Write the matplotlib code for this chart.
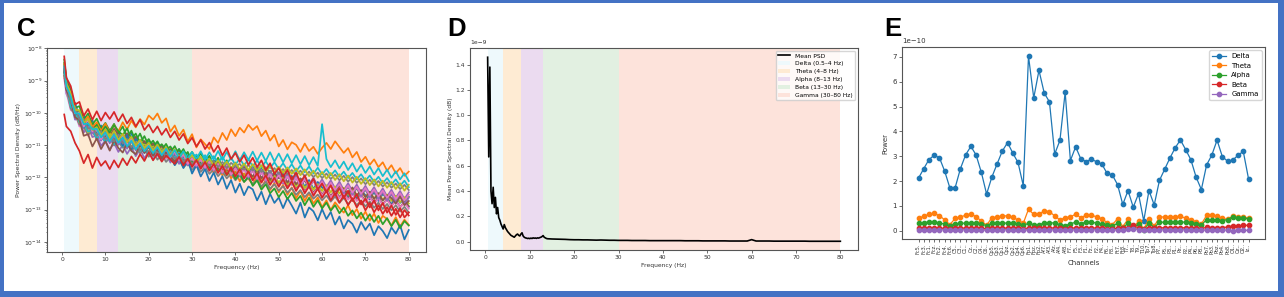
import numpy as np
import matplotlib
matplotlib.use('Agg')
import matplotlib.pyplot as plt
from matplotlib.patches import Rectangle

# ---------------- Panel C data: PSD per channel (values are -log10(PSD)) ----------------
psd_freqs = [0.5] + list(range(1, 81))

blue_a = [8.65,
 9.28, 9.51, 10.05, 9.97, 10.46, 10.22, 10.63, 10.41, 10.84, 10.55,
 10.91, 10.62, 10.74, 11.02, 10.69, 11.13, 10.81, 10.93, 11.24, 10.97,
 11.33, 11.05, 11.41, 11.17, 11.29, 11.62, 11.38, 11.71, 11.46, 11.88,
 11.62, 11.97, 11.74, 12.11, 11.85, 12.22, 11.96, 12.35, 12.08, 12.47,
 12.19, 12.55, 12.28, 12.37, 12.71, 12.44, 12.83, 12.51, 12.79, 12.62,
 12.95, 12.64, 12.87, 13.12, 12.78, 13.24, 12.93, 13.05, 13.33, 12.98,
 13.29, 13.07, 13.46, 13.21, 13.58, 13.32, 13.44, 13.71, 13.38, 13.62,
 13.43, 13.79, 13.51, 13.66, 13.88, 13.55, 13.74, 13.48, 13.92, 13.63]
blue_b = [8.45,
 8.92, 9.63, 9.69, 10.14, 10.05, 10.41, 10.22, 10.68, 10.39, 10.77,
 10.51, 10.84, 10.58, 10.93, 10.71, 10.62, 11.05, 10.83, 11.14, 10.89,
 11.21, 10.95, 11.28, 11.06, 11.35, 11.43, 11.12, 11.48, 11.25, 11.56,
 11.31, 11.62, 11.39, 11.71, 11.48, 11.53, 11.82, 11.57, 11.86, 11.62,
 11.93, 11.64, 11.87, 11.99, 11.71, 12.05, 11.79, 12.11, 11.84, 12.02,
 11.88, 12.17, 11.95, 12.24, 12.03, 12.29, 12.08, 12.36, 12.14, 12.31,
 12.42, 12.16, 12.47, 12.25, 12.38, 12.59, 12.33, 12.64, 12.41, 12.55,
 12.68, 12.44, 12.73, 12.51, 12.62, 12.84, 12.57, 12.79, 12.66, 12.91]
orange_a = [8.58,
 9.14, 9.42, 9.86, 9.95, 10.27, 10.11, 10.44, 10.29, 10.56, 10.33,
 10.62, 10.38, 10.57, 10.29, 10.51, 10.24, 10.45, 10.19, 10.36, 10.08,
 10.21, 10.02, 10.31, 10.17, 10.58, 10.39, 10.71, 10.52, 10.89, 10.66,
 11.07, 10.82, 10.97, 11.12, 10.76, 10.93, 10.62, 10.84, 10.51, 10.72,
 10.46, 10.61, 10.37, 10.53, 10.41, 10.72, 10.55, 10.86, 10.68, 11.04,
 10.84, 11.13, 10.91, 10.99, 11.21, 10.95, 11.18, 11.05, 11.27, 11.08,
 10.93, 11.12, 10.88, 11.06, 11.24, 11.09, 11.38, 11.21, 11.52, 11.36,
 11.61, 11.44, 11.68, 11.53, 11.79, 11.62, 11.87, 11.71, 11.95, 11.82]
orange_b = [8.86,
 9.21, 9.84, 9.88, 10.33, 10.26, 10.62, 10.39, 10.75, 10.51, 10.83,
 10.61, 10.92, 10.71, 10.79, 11.03, 10.85, 11.14, 10.91, 11.22, 11.01,
 11.31, 11.06, 11.24, 11.39, 11.12, 11.48, 11.26, 11.57, 11.33, 11.64,
 11.42, 11.71, 11.49, 11.63, 11.86, 11.58, 11.94, 11.72, 12.03, 11.81,
 12.12, 11.87, 12.04, 12.21, 11.96, 12.32, 12.08, 12.39, 12.17, 12.46,
 12.23, 12.54, 12.31, 12.65, 12.41, 12.73, 12.49, 12.81, 12.62, 12.92,
 12.71, 13.01, 12.77, 12.95, 13.09, 12.86, 13.17, 12.98, 13.28, 13.06,
 13.34, 13.12, 13.41, 13.19, 13.29, 13.49, 13.23, 13.52, 13.31, 13.47]
green_a = [8.54,
 9.23, 9.47, 10.02, 9.96, 10.41, 10.24, 10.58, 10.37, 10.63, 10.42,
 10.61, 10.38, 10.57, 10.69, 10.48, 10.81, 10.64, 10.93, 10.72, 11.02,
 10.86, 11.09, 10.97, 11.15, 11.04, 11.26, 11.12, 11.37, 11.21, 11.52,
 11.36, 11.58, 11.42, 11.71, 11.53, 11.82, 11.64, 11.93, 11.76, 12.05,
 11.88, 12.14, 11.97, 12.26, 12.09, 12.38, 12.21, 12.49, 12.34, 12.61,
 12.42, 12.67, 12.48, 12.73, 12.57, 12.86, 12.63, 12.91, 12.71, 12.96,
 12.78, 13.03, 12.86, 13.11, 12.93, 13.19, 13.02, 13.27, 13.09, 13.34,
 13.14, 13.38, 13.19, 13.45, 13.26, 13.51, 13.31, 13.57, 13.35, 13.49]
green_b = [8.35,
 8.99, 9.27, 9.85, 9.79, 10.21, 10.02, 10.36, 10.18, 10.49, 10.31,
 10.56, 10.34, 10.63, 10.42, 10.78, 10.55, 10.87, 10.64, 10.97, 10.81,
 11.06, 10.88, 11.14, 10.96, 11.22, 11.03, 11.31, 11.12, 11.39, 11.21,
 11.46, 11.25, 11.52, 11.33, 11.61, 11.39, 11.68, 11.47, 11.74, 11.54,
 11.81, 11.59, 11.86, 11.65, 11.93, 11.72, 11.98, 11.79, 12.04, 11.85,
 12.09, 11.88, 12.13, 11.94, 12.19, 12.01, 12.24, 12.05, 12.29, 12.12,
 12.34, 12.14, 12.39, 12.21, 12.45, 12.28, 12.51, 12.33, 12.56, 12.37,
 12.61, 12.42, 12.66, 12.47, 12.71, 12.51, 12.75, 12.56, 12.79, 12.60]
red_a = [10.05,
 10.42, 10.57, 10.93, 11.18, 11.56, 11.29, 11.71, 11.38, 11.64, 11.49,
 11.74, 11.47, 11.69, 11.41, 11.62, 11.35, 11.55, 11.28, 11.49, 11.22,
 11.47, 11.26, 11.51, 11.32, 11.45, 11.58, 11.36, 11.63, 11.41, 11.67,
 11.46, 11.73, 11.52, 11.79, 11.58, 11.86, 11.64, 11.92, 11.69, 11.97,
 11.74, 12.03, 11.81, 12.09, 11.87, 12.16, 11.93, 12.23, 12.01, 12.29,
 12.05, 12.34, 12.12, 12.42, 12.19, 12.49, 12.27, 12.57, 12.35, 12.63,
 12.42, 12.71, 12.49, 12.78, 12.56, 12.86, 12.64, 12.93, 12.72, 13.02,
 12.79, 13.08, 12.86, 13.13, 12.92, 13.19, 12.97, 13.24, 13.01, 13.18]
red_b = [8.25,
 8.91, 9.17, 9.74, 9.66, 10.09, 9.88, 10.21, 9.95, 10.24, 9.99,
 10.19, 9.97, 10.26, 10.04, 10.33, 10.14, 10.42, 10.21, 10.53, 10.36,
 10.61, 10.42, 10.68, 10.49, 10.76, 10.57, 10.84, 10.65, 10.95, 10.77,
 11.04, 10.84, 11.12, 10.92, 11.21, 11.01, 11.32, 11.09, 11.43, 11.24,
 11.52, 11.31, 11.61, 11.39, 11.68, 11.47, 11.78, 11.56, 11.89, 11.71,
 11.98, 11.77, 12.07, 11.85, 12.16, 11.94, 12.26, 12.04, 12.37, 12.19,
 12.46, 12.25, 12.55, 12.33, 12.64, 12.41, 12.73, 12.52, 12.84, 12.66,
 12.93, 12.71, 13.02, 12.79, 13.09, 12.87, 13.16, 12.95, 13.24, 13.08]
purple_a = [8.60,
 9.15, 9.53, 9.97, 10.05, 10.39, 10.21, 10.64, 10.47, 10.86, 10.63,
 10.94, 10.71, 10.99, 10.82, 11.11, 10.87, 11.16, 10.95, 11.24, 11.02,
 11.29, 11.07, 11.36, 11.14, 11.44, 11.23, 11.52, 11.31, 11.61, 11.38,
 11.67, 11.43, 11.72, 11.51, 11.79, 11.56, 11.86, 11.62, 11.92, 11.69,
 11.95, 11.72, 12.01, 11.78, 12.06, 11.84, 12.11, 11.89, 12.15, 11.94,
 12.19, 11.97, 12.23, 12.01, 12.28, 12.06, 12.32, 12.10, 12.36, 12.14,
 12.40, 12.18, 12.44, 12.22, 12.49, 12.27, 12.53, 12.31, 12.58, 12.36,
 12.62, 12.41, 12.67, 12.46, 12.72, 12.51, 12.77, 12.56, 12.82, 12.63]
purple_b = [8.76,
 9.41, 9.69, 10.21, 10.17, 10.61, 10.42, 10.75, 10.69, 11.02, 10.86,
 11.14, 10.93, 11.21, 10.99, 11.27, 11.06, 11.34, 11.12, 11.41, 11.19,
 11.45, 11.21, 11.49, 11.26, 11.54, 11.31, 11.58, 11.37, 11.63, 11.42,
 11.67, 11.44, 11.71, 11.49, 11.75, 11.54, 11.79, 11.58, 11.84, 11.62,
 11.88, 11.65, 11.91, 11.70, 11.96, 11.75, 12.01, 11.79, 12.05, 11.84,
 12.09, 11.87, 12.13, 11.92, 12.18, 11.97, 12.22, 12.01, 12.27, 12.06,
 12.30, 12.09, 12.34, 12.13, 12.39, 12.18, 12.43, 12.22, 12.47, 12.26,
 12.51, 12.30, 12.55, 12.34, 12.59, 12.38, 12.63, 12.42, 12.67, 12.46]
brown_a = [8.68,
 9.29, 9.61, 10.14, 10.22, 10.71, 10.66, 11.04, 10.79, 11.12, 10.88,
 11.17, 10.85, 11.09, 11.23, 10.93, 11.18, 11.28, 10.99, 11.24, 11.05,
 11.33, 11.09, 11.41, 11.22, 11.36, 11.51, 11.27, 11.58, 11.39, 11.62,
 11.44, 11.69, 11.51, 11.57, 11.76, 11.53, 11.81, 11.63, 11.86, 11.67,
 11.92, 11.69, 11.84, 11.97, 11.76, 12.03, 11.82, 12.08, 11.87, 12.02,
 11.93, 12.16, 11.98, 12.21, 12.04, 12.11, 12.27, 12.07, 12.32, 12.14,
 12.37, 12.19, 12.43, 12.25, 12.36, 12.51, 12.31, 12.56, 12.39, 12.61,
 12.44, 12.67, 12.49, 12.72, 12.55, 12.64, 12.81, 12.59, 12.86, 12.73]
brown_b = [8.49,
 9.04, 9.45, 9.86, 9.97, 10.28, 10.19, 10.47, 10.38, 10.67, 10.51,
 10.72, 10.49, 10.68, 10.81, 10.63, 10.92, 10.74, 11.01, 10.87, 11.09,
 10.94, 11.18, 11.01, 11.26, 11.12, 11.34, 11.17, 11.45, 11.28, 11.51,
 11.36, 11.59, 11.44, 11.68, 11.52, 11.75, 11.61, 11.84, 11.69, 11.91,
 11.74, 11.97, 11.82, 12.05, 11.89, 12.13, 11.96, 12.19, 12.03, 12.24,
 12.08, 12.29, 12.14, 12.36, 12.19, 12.42, 12.25, 12.47, 12.31, 12.53,
 12.36, 12.57, 12.41, 12.61, 12.45, 12.66, 12.49, 12.70, 12.54, 12.73,
 12.58, 12.78, 12.62, 12.83, 12.67, 12.87, 12.71, 12.92, 12.76, 12.89]
pink_a = [8.55,
 9.19, 9.49, 10.02, 9.98, 10.43, 10.21, 10.57, 10.49, 10.82, 10.61,
 10.84, 10.66, 10.93, 10.71, 10.99, 10.79, 11.08, 10.87, 11.17, 10.98,
 11.21, 11.03, 11.29, 11.11, 11.37, 11.19, 11.46, 11.27, 11.58, 11.41,
 11.63, 11.45, 11.69, 11.52, 11.77, 11.58, 11.84, 11.63, 11.91, 11.71,
 11.92, 11.74, 11.97, 11.79, 12.03, 11.83, 12.08, 11.88, 12.12, 11.93,
 12.15, 11.96, 12.19, 12.01, 12.24, 12.05, 12.28, 12.09, 12.32, 12.13,
 12.35, 12.16, 12.39, 12.21, 12.43, 12.25, 12.47, 12.29, 12.51, 12.33,
 12.55, 12.37, 12.59, 12.41, 12.63, 12.45, 12.67, 12.49, 12.71, 12.54]
pink_b = [8.94,
 9.36, 9.91, 10.01, 10.42, 10.38, 10.71, 10.51, 10.83, 10.62, 10.91,
 10.71, 10.96, 10.78, 11.04, 10.85, 11.11, 10.93, 11.19, 11.05, 11.29,
 11.11, 11.35, 11.17, 11.43, 11.26, 11.51, 11.34, 11.59, 11.46, 11.69,
 11.51, 11.74, 11.57, 11.79, 11.63, 11.85, 11.68, 11.91, 11.76, 11.98,
 11.81, 12.04, 11.87, 12.09, 11.92, 12.15, 11.98, 12.21, 12.04, 12.27,
 12.09, 12.33, 12.15, 12.39, 12.21, 12.45, 12.27, 12.51, 12.33, 12.56,
 12.39, 12.61, 12.44, 12.65, 12.48, 12.69, 12.52, 12.73, 12.57, 12.77,
 12.61, 12.81, 12.65, 12.85, 12.69, 12.89, 12.73, 12.93, 12.78, 12.97]
gray_a = [8.64,
 9.03, 9.69, 9.82, 10.21, 10.19, 10.49, 10.44, 10.71, 10.56, 10.81,
 10.74, 10.89, 10.68, 10.95, 10.81, 11.07, 10.91, 11.16, 11.02, 11.21,
 11.08, 11.29, 11.14, 11.36, 11.22, 11.43, 11.31, 11.52, 11.39, 11.58,
 11.44, 11.61, 11.47, 11.65, 11.49, 11.68, 11.52, 11.71, 11.55, 11.66,
 11.58, 11.76, 11.61, 11.79, 11.64, 11.83, 11.68, 11.86, 11.71, 11.89,
 11.74, 11.91, 11.77, 11.94, 11.79, 11.97, 11.82, 11.99, 11.85, 12.02,
 11.88, 12.05, 11.91, 12.09, 11.95, 12.13, 11.99, 12.17, 12.03, 12.21,
 12.07, 12.24, 12.11, 12.28, 12.15, 12.32, 12.19, 12.36, 12.23, 12.39]
gray_b = [8.85,
 9.25, 9.86, 10.05, 10.36, 10.44, 10.67, 10.57, 10.81, 10.69, 10.91,
 10.78, 11.01, 10.89, 11.08, 10.95, 11.16, 11.04, 11.25, 11.12, 11.36,
 11.21, 11.45, 11.29, 11.52, 11.37, 11.61, 11.46, 11.69, 11.55, 11.77,
 11.61, 11.83, 11.67, 11.89, 11.74, 11.96, 11.81, 12.03, 11.88, 12.09,
 11.94, 12.14, 12.01, 12.21, 12.07, 12.28, 12.13, 12.35, 12.21, 12.41,
 12.27, 12.47, 12.33, 12.54, 12.39, 12.61, 12.46, 12.66, 12.53, 12.71,
 12.56, 12.75, 12.59, 12.79, 12.63, 12.83, 12.67, 12.86, 12.71, 12.90,
 12.74, 12.94, 12.78, 12.98, 12.82, 13.02, 12.86, 13.06, 12.91, 13.09]
olive_a = [8.46,
 9.09, 9.39, 9.91, 9.92, 10.31, 10.19, 10.53, 10.44, 10.69, 10.51,
 10.77, 10.56, 10.84, 10.65, 10.91, 10.74, 11.01, 10.83, 11.09, 10.92,
 11.16, 10.98, 11.22, 11.06, 11.31, 11.12, 11.39, 11.21, 11.47, 11.31,
 11.52, 11.36, 11.57, 11.42, 11.63, 11.47, 11.68, 11.51, 11.72, 11.55,
 11.74, 11.57, 11.77, 11.59, 11.79, 11.62, 11.82, 11.64, 11.84, 11.67,
 11.86, 11.69, 11.89, 11.72, 11.93, 11.75, 11.96, 11.79, 12.01, 11.83,
 12.04, 11.86, 12.08, 11.90, 12.12, 11.94, 12.16, 11.98, 12.20, 12.02,
 12.24, 12.06, 12.28, 12.10, 12.32, 12.14, 12.36, 12.18, 12.41, 12.23]
olive_b = [8.72,
 9.16, 9.78, 9.91, 10.31, 10.32, 10.61, 10.44, 10.71, 10.59, 10.82,
 10.63, 10.91, 10.69, 10.97, 10.79, 11.05, 10.87, 11.14, 10.98, 11.22,
 11.04, 11.29, 11.11, 11.37, 11.19, 11.45, 11.28, 11.54, 11.39, 11.62,
 11.44, 11.68, 11.51, 11.75, 11.58, 11.82, 11.64, 11.88, 11.71, 11.93,
 11.74, 11.97, 11.79, 12.02, 11.84, 12.07, 11.89, 12.12, 11.94, 12.16,
 11.98, 12.21, 12.04, 12.27, 12.09, 12.33, 12.15, 12.38, 12.21, 12.42,
 12.24, 12.46, 12.28, 12.50, 12.32, 12.54, 12.36, 12.58, 12.41, 12.61,
 12.45, 12.65, 12.49, 12.69, 12.53, 12.73, 12.57, 12.77, 12.61, 12.81]
cyan_a = [8.56,
 9.18, 9.49, 10.01, 10.02, 10.35, 10.33, 10.51, 10.49, 10.76, 10.61,
 10.88, 10.67, 10.93, 10.76, 11.04, 10.86, 11.13, 10.94, 11.19, 11.02,
 11.25, 11.06, 11.31, 11.11, 11.36, 11.15, 11.41, 11.19, 11.43, 11.21,
 11.42, 11.19, 11.45, 11.22, 11.44, 11.18, 11.46, 11.21, 11.45, 11.19,
 11.47, 11.22, 11.46, 11.20, 11.48, 11.23, 11.49, 11.22, 11.51, 11.26,
 11.53, 11.28, 11.56, 11.31, 11.59, 11.34, 11.62, 11.37, 11.64, 10.35,
 11.43, 11.68, 11.47, 11.72, 11.51, 11.77, 11.56, 11.82, 11.61, 11.86,
 11.66, 11.91, 11.71, 11.96, 11.76, 12.01, 11.81, 12.06, 11.87, 12.11]
cyan_b = [8.74,
 9.13, 9.81, 9.94, 10.29, 10.33, 10.58, 10.53, 10.79, 10.68, 10.91,
 10.71, 10.97, 10.81, 11.03, 10.89, 11.11, 10.97, 11.18, 11.05, 11.27,
 11.09, 11.31, 11.14, 11.35, 11.18, 11.38, 11.22, 11.42, 11.26, 11.46,
 11.29, 11.49, 11.31, 11.52, 11.34, 11.55, 11.36, 11.58, 11.39, 11.61,
 11.41, 11.63, 11.44, 11.66, 11.47, 11.69, 11.50, 11.71, 11.53, 11.74,
 11.56, 11.77, 11.59, 11.81, 11.63, 11.84, 11.66, 11.88, 11.70, 11.91,
 11.74, 11.94, 11.78, 11.98, 11.82, 12.02, 11.86, 12.06, 11.90, 12.10,
 11.94, 12.14, 11.98, 12.18, 12.02, 12.22, 12.06, 12.26, 12.10, 12.30]

tab = plt.get_cmap('tab10').colors
curves = [
    (blue_b, tab[0]), (orange_b, tab[1]), (green_b, tab[2]), (purple_b, tab[4]),
    (brown_b, tab[5]), (pink_b, tab[6]), (gray_b, tab[7]), (olive_b, tab[8]),
    (cyan_b, tab[9]), (blue_a, tab[0]), (orange_a, tab[1]), (green_a, tab[2]),
    (purple_a, tab[4]), (brown_a, tab[5]), (pink_a, tab[6]), (gray_a, tab[7]),
    (olive_a, tab[8]), (cyan_a, tab[9]), (red_b, tab[3]), (red_a, tab[3]),
]

# ---------------- Panel D data: mean PSD (x 1e-9) ----------------
mean_freqs = list(np.arange(0.5, 14.01, 0.25)) + list(range(15, 81))
mean_psd = [1.458, 0.67, 1.38, 0.40, 0.30, 0.43, 0.27, 0.35, 0.22, 0.27,
            0.19, 0.17, 0.14, 0.12, 0.10, 0.135, 0.11, 0.095, 0.08, 0.07,
            0.06, 0.05, 0.045, 0.04, 0.035, 0.045, 0.055, 0.06, 0.05, 0.045,
            0.06, 0.07, 0.045, 0.035, 0.03, 0.028, 0.025, 0.027, 0.024, 0.028,
            0.025, 0.03, 0.027, 0.029, 0.026, 0.03, 0.028, 0.032, 0.035, 0.04,
            0.048, 0.035, 0.03, 0.025, 0.023,
            0.021, 0.020, 0.019, 0.018, 0.016, 0.015, 0.015, 0.014, 0.014, 0.013,
            0.012, 0.013, 0.012, 0.011, 0.011, 0.010, 0.010, 0.010, 0.009, 0.009,
            0.009, 0.009, 0.008, 0.008, 0.008, 0.008, 0.008, 0.008, 0.008, 0.008,
            0.007, 0.007, 0.007, 0.007, 0.006, 0.006, 0.006, 0.006, 0.006, 0.006,
            0.005, 0.005, 0.005, 0.005, 0.005, 0.016, 0.005, 0.005, 0.005, 0.005,
            0.004, 0.004, 0.004, 0.004, 0.004, 0.004, 0.004, 0.004, 0.003, 0.003,
            0.003, 0.003, 0.003, 0.003, 0.003, 0.003]

bands = [("Delta (0.5–4 Hz)", 0.5, 4, '#EEF9FC'),
         ("Theta (4–8 Hz)", 4, 8, '#FEEBD3'),
         ("Alpha (8–13 Hz)", 8, 13, '#EBDBF0'),
         ("Beta (13–30 Hz)", 13, 30, '#E2F0E1'),
         ("Gamma (30–80 Hz)", 30, 80, '#FDE3DB')]

# ---------------- Panel E data: band power per channel (x 1e-10) ----------------
channels = ['Fc5.', 'Fc3.', 'Fc1.', 'Fcz.', 'Fc2.', 'Fc4.', 'Fc6.', 'C5..', 'C3..', 'C1..',
            'Cz..', 'C2..', 'C4..', 'C6..', 'Cp5.', 'Cp3.', 'Cp1.', 'Cpz.', 'Cp2.', 'Cp4.',
            'Cp6.', 'Fp1.', 'Fpz.', 'Fp2.', 'Af7.', 'Af3.', 'Afz.', 'Af4.', 'Af8.', 'F7..',
            'F5..', 'F3..', 'F1..', 'Fz..', 'F2..', 'F4..', 'F6..', 'F8..', 'Ft7.', 'Ft8.',
            'T7..', 'T8..', 'T9..', 'T10.', 'Tp7.', 'Tp8.', 'P7..', 'P5..', 'P3..', 'P1..',
            'Pz..', 'P2..', 'P4..', 'P6..', 'P8..', 'Po7.', 'Po3.', 'Poz.', 'Po4.', 'Po8.',
            'O1..', 'Oz..', 'O2..', 'Iz..']
delta = [2.12, 2.50, 2.87, 3.04, 2.94, 2.40, 1.72,
         1.74, 2.50, 3.06, 3.40, 3.05, 2.35, 1.48,
         2.16, 2.69, 3.21, 3.55, 3.13, 2.75, 1.82,
         7.03, 5.35, 6.46,
         5.55, 5.19, 3.09, 3.64, 5.58,
         2.83, 3.38, 2.89, 2.79, 2.88, 2.78, 2.69, 2.31, 2.25,
         1.86, 1.06,
         1.62, 0.95, 1.49, 0.40,
         1.62, 1.04,
         2.03, 2.48, 2.93, 3.34, 3.66, 3.27, 2.86, 2.16, 1.66,
         2.65, 3.05, 3.65, 2.99, 2.80,
         2.85, 3.04, 3.20,
         2.10]
theta = [0.50, 0.59, 0.66, 0.70, 0.61, 0.44, 0.25,
         0.50, 0.55, 0.63, 0.69, 0.56, 0.40, 0.22,
         0.53, 0.55, 0.60, 0.60, 0.54, 0.44, 0.30,
         0.87, 0.66, 0.66,
         0.81, 0.77, 0.60, 0.44, 0.53,
         0.56, 0.67, 0.53, 0.63, 0.63, 0.56, 0.49, 0.33, 0.25,
         0.48, 0.17,
         0.47, 0.13, 0.38, 0.08,
         0.47, 0.18,
         0.55, 0.56, 0.56, 0.57, 0.58, 0.51, 0.45, 0.37, 0.27,
         0.62, 0.62, 0.60, 0.50, 0.46,
         0.58, 0.56, 0.56,
         0.50]
alpha = [0.30, 0.33, 0.35, 0.35, 0.32, 0.27, 0.20,
         0.28, 0.30, 0.31, 0.31, 0.30, 0.27, 0.21,
         0.30, 0.31, 0.31, 0.31, 0.30, 0.29, 0.22,
         0.30, 0.25, 0.24,
         0.32, 0.33, 0.31, 0.25, 0.20,
         0.29, 0.34, 0.29, 0.35, 0.35, 0.31, 0.27, 0.24, 0.19,
         0.30, 0.13,
         0.30, 0.10, 0.29, 0.05,
         0.31, 0.13,
         0.34, 0.35, 0.35, 0.35, 0.35, 0.35, 0.33, 0.29, 0.23,
         0.45, 0.43, 0.42, 0.41, 0.45,
         0.57, 0.51, 0.53,
         0.48]
beta = [0.11, 0.12, 0.12, 0.12, 0.11, 0.10, 0.08,
        0.10, 0.11, 0.11, 0.11, 0.11, 0.10, 0.08,
        0.10, 0.11, 0.11, 0.11, 0.11, 0.10, 0.09,
        0.11, 0.10, 0.10,
        0.12, 0.12, 0.11, 0.10, 0.09,
        0.10, 0.12, 0.11, 0.12, 0.12, 0.11, 0.10, 0.09, 0.08,
        0.11, 0.12,
        0.12, 0.22, 0.11, 0.08,
        0.11, 0.10,
        0.12, 0.12, 0.12, 0.12, 0.12, 0.12, 0.11, 0.10, 0.09,
        0.14, 0.13, 0.13, 0.13, 0.15,
        0.20, 0.19, 0.22,
        0.22]
gamma = [0.04, 0.04, 0.04, 0.04, 0.04, 0.04, 0.03,
         0.03, 0.04, 0.04, 0.04, 0.04, 0.03, 0.03,
         0.03, 0.04, 0.04, 0.04, 0.04, 0.03, 0.03,
         0.04, 0.04, 0.04,
         0.04, 0.04, 0.04, 0.04, 0.03,
         0.03, 0.04, 0.04, 0.04, 0.04, 0.04, 0.03, 0.03, 0.03,
         0.04, 0.05,
         0.06, 0.09, 0.05, 0.03,
         0.04, 0.04,
         0.04, 0.04, 0.04, 0.04, 0.04, 0.04, 0.04, 0.03, 0.03,
         0.03, 0.03, 0.03, 0.03, 0.03,
         0.01, 0.02, 0.02,
         0.02]
band_series = [("Delta", delta), ("Theta", theta), ("Alpha", alpha), ("Beta", beta), ("Gamma", gamma)]

# ---------------- Figure ----------------
W, H = 1284, 297
fig = plt.figure(figsize=(W / 100, H / 100), dpi=100)
fig.patch.set_facecolor('white')


def ax_px(l, t, r, b):
    return fig.add_axes([l / W, 1 - b / H, (r - l) / W, (b - t) / H])


def style(ax, fs):
    for s in ax.spines.values():
        s.set_color('#555555')
        s.set_linewidth(0.8)
    ax.tick_params(labelsize=fs, length=2, width=0.5, pad=1.5, colors='#333333')


FS = 4.3

# Panel C
axc = ax_px(47, 48, 426, 252)
for name, lo, hi, col in bands:
    axc.axvspan(lo, hi, color=col, lw=0, zorder=0)
for vals, col in curves:
    axc.plot(psd_freqs, 10.0 ** (-np.array(vals)), color=col, lw=1.25, zorder=2)
axc.set_yscale('log')
axc.set_xlim(-3.475, 83.975)
axc.set_ylim(10 ** -14.31, 10 ** -7.99)
axc.set_xticks(range(0, 81, 10))
axc.set_yticks([10.0 ** e for e in range(-14, -7)])
style(axc, FS)
axc.tick_params(which='minor', length=1, width=0.4)
axc.set_xlabel('Frequency (Hz)', fontsize=FS, labelpad=2, color='#333333')
axc.set_ylabel('Power Spectral Density (dB/Hz)', fontsize=FS, labelpad=2, color='#333333')

# Panel D
axd = ax_px(470, 48, 858, 250)
for name, lo, hi, col in bands:
    axd.axvspan(lo, hi, color=col, lw=0, zorder=0, label=name)
axd.plot(mean_freqs, np.array(mean_psd) * 1e-9, color='black', lw=1.2, label='Mean PSD', zorder=2)
axd.set_xlim(-3.475, 83.975)
axd.set_ylim(-0.066e-9, 1.531e-9)
axd.set_xticks(range(0, 81, 10))
axd.set_yticks(np.arange(0, 1.41, 0.2) * 1e-9)
style(axd, FS)
axd.yaxis.get_offset_text().set_fontsize(FS)
axd.set_xlabel('Frequency (Hz)', fontsize=FS, labelpad=2, color='#333333')
axd.set_ylabel('Mean Power Spectral Density (dB)', fontsize=FS, labelpad=2, color='#333333')
h, l = axd.get_legend_handles_labels()
order = [l.index('Mean PSD')] + [i for i in range(len(l)) if l[i] != 'Mean PSD']
axd.legend([h[i] for i in order], [l[i] for i in order], loc='upper right', fontsize=FS,
           frameon=True, framealpha=0.8, edgecolor='#cccccc', borderpad=0.4,
           handlelength=2.0, labelspacing=0.45)

# Panel E
axe = ax_px(902, 47, 1265, 239)
x = np.arange(len(channels))
for name, vals in band_series:
    axe.plot(x, np.array(vals) * 1e-10, marker='o', ms=3.1, lw=0.9, label=name)
axe.set_xlim(-3.15, len(channels) - 1 + 3.15)
axe.set_ylim(-0.33e-10, 7.40e-10)
axe.set_yticks(np.arange(0, 8) * 1e-10)
axe.set_xticks(x)
axe.set_xticklabels(channels, rotation=90, fontsize=3.6)
style(axe, 5)
axe.tick_params(axis='x', labelsize=3.6, pad=1)
axe.yaxis.get_offset_text().set_fontsize(5)
axe.set_xlabel('Channels', fontsize=5, labelpad=4, color='#333333')
axe.set_ylabel('Power', fontsize=5, labelpad=3, color='#333333')
axe.legend(loc='upper right', fontsize=5, frameon=True, edgecolor='#cccccc',
           borderpad=0.4, handlelength=2.0, labelspacing=0.5)

# Panel letters
for lx, letter in [(17, 'C'), (447, 'D'), (884, 'E')]:
    fig.text(lx / W, 1 - 36 / H, letter, fontsize=18.5, fontweight='bold',
             family=['Liberation Sans', 'DejaVu Sans'], va='baseline', ha='left')

# Blue border
bc = '#4472C4'
for (bx, by, bw, bh) in [(0, 0, 4, H), (0, 0, W, 3), (W - 6, 0, 6, H), (0, H - 6, W, 6)]:
    fig.add_artist(Rectangle((bx / W, 1 - (by + bh) / H), bw / W, bh / H,
                             transform=fig.transFigure, color=bc, lw=0, zorder=10))

fig.savefig('out.png', dpi=100)
